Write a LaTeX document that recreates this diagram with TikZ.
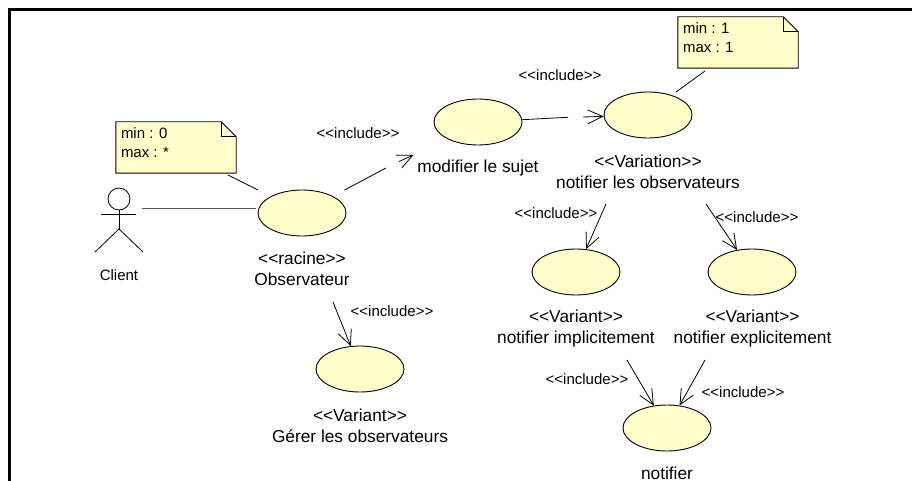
\documentclass[tikz,border=0pt]{standalone}
\usepackage{fontspec}
\setmainfont{Liberation Sans}
\usetikzlibrary{arrows.meta}
\usetikzlibrary{shapes.geometric}
\definecolor{ucyellow}{HTML}{FFFFCC}
\newcommand{\gm}[1]{<{}<#1>{}>}
\newcommand{\notefold}[1]{%
  \fill[white] ([xshift=-15pt]#1.north east) -- (#1.north east) -- ([yshift=-15pt]#1.north east) -- cycle;
  \draw[notedraw] (#1.north west) -- ([xshift=-15pt]#1.north east) -- ([yshift=-15pt]#1.north east) -- (#1.south east) -- (#1.south west) -- cycle;
  \draw[notedraw] ([xshift=-15pt]#1.north east) -- ([xshift=-15pt,yshift=-15pt]#1.north east) -- ([yshift=-15pt]#1.north east);
}
\tikzset{
  usecase/.style={ellipse,draw=black,fill=ucyellow,line width=0.9pt,minimum width=88pt,minimum height=46pt,inner sep=0pt},
  lbl/.style={align=center,inner sep=0pt,font=\fontsize{17.3}{21}\selectfont},
  inc/.style={inner sep=0pt,font=\fontsize{15}{18}\selectfont},
  notebox/.style={rectangle,fill=ucyellow,minimum width=120pt,minimum height=51pt,inner sep=0pt,font=\fontsize{15}{19}\selectfont},
  notedraw/.style={draw=black,line width=0.9pt,line join=miter},
  conn/.style={draw=black,line width=0.8pt},
  arr/.style={conn,-{Straight Barb[length=15pt,width=14pt,line width=0.8pt]}},
  stick/.style={draw=black,line width=0.8pt},
  frameline/.style={draw=black,line width=3pt,line join=miter}
}
\begin{document}
\begin{tikzpicture}[x=1pt,y=-1pt]
\useasboundingbox[fill=white] (0,0) rectangle (912,481);
\draw[frameline] (9.5,481) -- (9.5,10) -- (912,10);

% use cases
\node[usecase] (obs) at (302,213) {};
\node[usecase] (mod) at (478,122) {};
\node[usecase] (var) at (648,115) {};
\node[usecase] (imp) at (576,272) {};
\node[usecase] (exp) at (752,272) {};
\node[usecase] (ntf) at (667,428) {};
\node[usecase] (ger) at (360,369) {};

% use case labels
\node[lbl] (obsl) at (302,269) {\gm{racine}\\Observateur};
\node[lbl] (modl) at (478,168) {modifier le sujet};
\node[lbl] (varl) at (648,172) {\gm{Variation}\\notifier les observateurs};
\node[lbl] (impl) at (576,328.5) {\gm{Variant}\\notifier implicitement};
\node[lbl] (expl) at (752.5,328.5) {\gm{Variant}\\notifier explicitement};
\node[lbl] (ntfl) at (667,473) {notifier};
\node[lbl] (gerl) at (360,426) {\gm{Variant}\\Gérer les observateurs};

% notes
\node[notebox] (n1) at (176,147.5) {\parbox[c][51pt][t]{110pt}{\vspace*{6pt}\baselineskip=18.5pt min : 0\\max : *}};
\notefold{n1}
\node[notebox] (n2) at (738,42.5) {\parbox[c][51pt][t]{110pt}{\vspace*{6pt}\baselineskip=18.5pt min : 1\\max : 1}};
\notefold{n2}

% actor
\node[circle,stick,minimum size=22pt,inner sep=0pt] (head) at (119,199) {};
\coordinate (neck) at (119,229);
\coordinate (armL) at (101,214);
\coordinate (armR) at (136,214);
\coordinate (legL) at (95,252);
\coordinate (legR) at (143,252);
\draw[stick] (head) -- (neck);
\draw[stick] (armL) -- (armR);
\draw[stick] (legL) -- (neck) -- (legR);
\node[inc] (client) at (119,275) {Client};

% free ends of the broken connectors
\coordinate (a0) at (142,208.5);
\coordinate (a1) at (256,208.5);
\coordinate (b0) at (228,175);
\coordinate (b1) at (258,190);
\coordinate (c0) at (705,71);
\coordinate (c1) at (676,92);
\coordinate (d0) at (344.5,190);
\coordinate (d1) at (386,168);
\coordinate (d2) at (399,161.5);
\coordinate (d3) at (413.5,155);
\coordinate (e1) at (568,117.3);
\coordinate (e2) at (583,117);
\coordinate (f0) at (606,204);
\coordinate (g0) at (706,204);
\coordinate (h0) at (627,360);
\coordinate (i0) at (705,360);
\coordinate (j0) at (333,302);

% connectors
\draw[conn,draw=black!65] (a0) -- (a1);
\draw[conn] (b0) -- (b1);
\draw[conn] (c0) -- (c1);
\draw[conn] (d0) -- (d1);
\draw[arr] (d2) -- (d3);
\draw[conn] (mod) -- (e1);
\draw[arr] (e2) -- (var);
\draw[arr] (f0) -- (imp);
\draw[arr] (g0) -- (exp);
\draw[arr] (h0) -- (ntf);
\draw[arr] (i0) -- (ntf);
\draw[arr] (j0) -- (ger);

% include labels
\node[inc] (i1) at (358,133) {\gm{include}};
\node[inc] (i2) at (560,75) {\gm{include}};
\node[inc] (i3) at (556,213) {\gm{include}};
\node[inc] (i4) at (757,217) {\gm{include}};
\node[inc] (i5) at (587,379) {\gm{include}};
\node[inc] (i6) at (743,392) {\gm{include}};
\node[inc] (i7) at (392,311) {\gm{include}};
\end{tikzpicture}
\end{document}
